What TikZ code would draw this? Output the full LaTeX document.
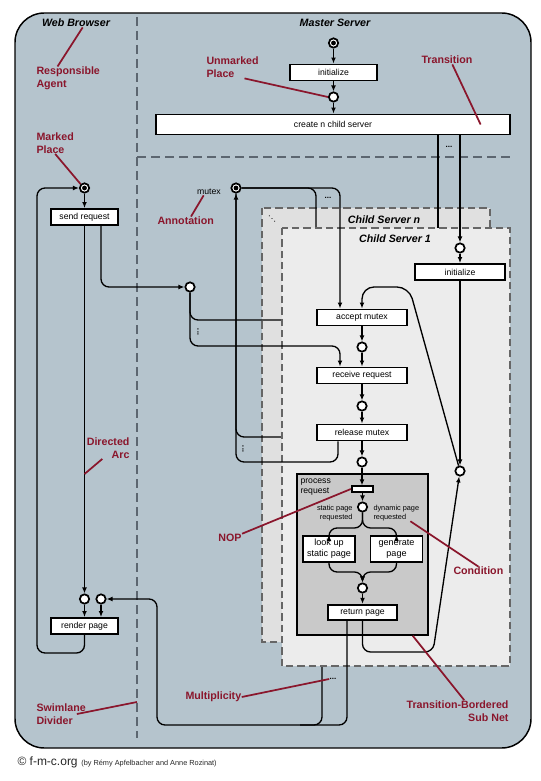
\documentclass[tikz,border=0pt]{standalone}
\usepackage{fontspec}
\setmainfont{Liberation Sans}
\newfontfamily\dotsfont{DejaVu Sans}
\usepackage{tikz}
\usetikzlibrary{arrows.meta}
\definecolor{lanegray}{RGB}{181,196,205}
\definecolor{annored}{RGB}{138,22,44}
\definecolor{childngray}{RGB}{224,224,224}
\definecolor{childonegray}{RGB}{236,236,236}
\definecolor{subnetgray}{RGB}{201,201,201}
\definecolor{dividergray}{RGB}{92,102,112}
\tikzset{every picture/.style={line width=0.75pt}}
\tikzset{
  trans/.style={draw, fill=white, line width=1.4pt, inner sep=0pt, minimum height=12pt, font=\fontsize{6.5}{7.5}\selectfont},
  place/.style={circle, draw, fill=white, line width=1.3pt, minimum size=7pt, inner sep=0pt},
  tokenplace/.style={place, path picture={\fill[black] (path picture bounding box.center) circle (1.8pt);}},
  netarc/.style={-{Latex[length=4.5pt,width=3.6pt]}, line width=1pt, rounded corners=6pt},
  netline/.style={line width=1pt, rounded corners=6pt},
  lane/.style={inner sep=0pt, font=\bfseries\itshape\fontsize{8}{9.5}\selectfont},
  anno/.style={inner sep=0pt, text=annored, font=\bfseries\fontsize{8}{9.75}\selectfont},
  annoline/.style={draw=annored, line width=1.3pt},
  divider/.style={draw=dividergray, line width=1pt, dash pattern=on 7pt off 3.5pt},
  childbox/.style={draw=black!60, line width=1pt, dash pattern=on 5.5pt off 3pt},
  small/.style={inner sep=0pt, font=\fontsize{6.5}{7.5}\selectfont},
  tiny/.style={inner sep=0pt, font=\fontsize{5.5}{6.5}\selectfont},
  multi/.style={inner sep=0pt, font=\bfseries\fontsize{6}{6}\selectfont}
}

\begin{document}
\begin{tikzpicture}[x=0.75pt,y=0.75pt,yscale=-1,xscale=1]
\useasboundingbox (0,0) rectangle (540,781);
\draw [line width=1.1pt, fill=lanegray, rounded corners=22pt] (15,13) rectangle (531,748);
\draw [divider] (137,17) -- (137,738);
\draw [divider] (137,157) -- (510,157);
\node [lane] (browser) at (76,23) {Web Browser};
\node [lane] (master) at (335,23) {Master Server};

\draw [childbox, fill=childngray] (262,208) rectangle (490,642);
\node [lane] (childn) at (384,220) {Child Server n};
\node [inner sep=0pt, font=\dotsfont\fontsize{6}{6}\selectfont] (ddots) at (272,219) {⋱};

\node [tokenplace] (mstart) at (333.5,43) {};
\node [trans, minimum width=65pt] (minit) at (333.5,72.5) {initialize};
\node [place] (mp1) at (333.5,97) {};
\node [trans, minimum width=265pt, minimum height=15pt] (create) at (333,124.5) {create n child server};

\node [tokenplace] (bstart) at (84.5,188) {};
\node [trans, minimum width=50pt] (send) at (84.5,217) {send request};
\node [place] (bp1) at (190,287) {};
\node [place] (rp1) at (84.5,599) {};
\node [place] (rp2) at (101,599) {};
\node [trans, minimum width=50pt] (render) at (84.5,626) {render page};

\node [tokenplace] (mutex) at (236,188) {};
\node [small] (mutexlbl) at (209,192) {mutex};

\coordinate (cninit) at (438,240);
\coordinate (cnaccept) at (316,240);
\coordinate (cnreceive) at (292,320);
\coordinate (cnrelease) at (292,437);
\coordinate (cnreturn) at (322,650);
\draw [netline] (create.south -| cninit) -- (cninit);
\draw [netline] (mutex) -| (cnaccept);
\draw [netline] (bp1.south) |- (cnreceive);
\draw [netline] (cnrelease) -| (mutex.south);
\draw [netline] (cnreturn) |- (300,725);

\draw [childbox, fill=childonegray] (282,228) rectangle (510,666);
\node [lane] (childone) at (395,239) {Child Server 1};

\node [place] (cp0) at (460,248) {};
\node [trans, minimum width=67.5pt] (cinit) at (460,272) {initialize};
\node [place] (cright) at (460,471) {};
\node [trans, minimum width=67.5pt] (accept) at (362,317.5) {accept mutex};
\node [place] (ap) at (362,347) {};
\node [trans, minimum width=67.5pt] (receive) at (362,375.5) {receive request};
\node [place] (rcp) at (362,406) {};
\node [trans, minimum width=67.5pt] (release) at (362,432.5) {release mutex};
\node [place] (lp) at (362,462) {};

\node [draw, fill=subnetgray, line width=1.4pt, minimum width=98pt, minimum height=120.5pt] (subnet) at (362.5,554.5) {};
\node [small, anchor=north west, align=left] (proclbl) at (300,478) {process\\request};
\node [trans, minimum width=16pt, minimum height=4pt] (nop) at (362.5,489) {};
\node [place] (sp) at (362.5,507) {};
\node [tiny, anchor=east, align=right] (statlbl) at (353,513) {static page\\requested};
\node [tiny, anchor=west, align=left] (dynlbl) at (373,513) {dynamic page\\requested};
\node [trans, minimum width=39pt, minimum height=19.5pt, align=center, font=\fontsize{6.8}{8.2}\selectfont] (lookup) at (329,549) {look up\\static page};
\node [trans, minimum width=39pt, minimum height=19.5pt, align=center, font=\fontsize{6.8}{8.2}\selectfont] (generate) at (396.5,549) {generate\\page};
\node [place] (mp) at (362.5,588) {};
\node [trans, minimum width=52pt, minimum height=11.5pt] (ret) at (362.5,612.5) {return page};

\draw [netarc] (mstart) -- (minit);
\draw [netarc] (minit) -- (mp1);
\draw [netarc] (mp1) -- (mp1 |- create.north);
\draw [netarc] (create.south -| cp0) -- (cp0);
\draw [netarc] (cp0) -- (cinit);
\draw [netarc] (cinit.south -| cright) -- (cright);

\draw [netarc] (bstart) -- (send);
\draw [netarc] (send) -- (rp1);
\draw [netarc] (send.south -| rp2) |- (bp1);
\draw [netarc] (rp1) -- (rp1 |- render.north);
\draw [netarc] (rp2) -- (rp2 |- render.north);
\draw [netarc] (render.south) |- (37,653) |- (bstart);
\draw [netarc] (bp1.south) |- (340,346) -- (receive.north -| 340,0);

\draw [netarc] (mutex) -| (accept.north -| 340,0);
\draw [netarc] (release.south -| 338,0) |- (mutex.south |- 0,462) -- (mutex.south);
\draw [netarc, rounded corners=9pt] (cright) -- (409,287) -- (accept.north |- 0,287) -- (accept.north);
\draw [netarc] (accept) -- (ap);
\draw [netarc] (ap) -- (receive);
\draw [netarc] (receive) -- (rcp);
\draw [netarc] (rcp) -- (release);
\draw [netarc] (release) -- (lp);
\draw [netarc] (lp) -- (lp |- nop.north);
\draw [netarc] (nop) -- (sp);
\draw [netarc] (sp.south) |- (lookup.north |- 0,528) -- (lookup.north);
\draw [netarc] (sp.south) |- (generate.north |- 0,528) -- (generate.north);
\draw [netarc] (lookup.south) |- (mp.north |- 0,572) -- (mp.north);
\draw [netarc] (generate.south) |- (mp.north |- 0,572) -- (mp.north);
\draw [netarc] (mp) -- (ret);
\draw [netarc] (ret.south) |- (433,652) -- (cright);
\draw [netarc] (ret.south -| 347,0) |- (157,725) |- (rp2);

\node [multi] (dotscreate) at (449,147) {...};
\node [multi] (dotsmutex) at (328,198) {...};
\node [multi, rotate=90] (vdotsreq) at (198,332) {...};
\node [multi, rotate=90] (vdotsrel) at (243,449) {...};
\node [multi] (dotsbot) at (333,679) {...};

\coordinate (arcpt) at (84.5,474);
\coordinate (swimpt) at (137,702);
\node [anno, anchor=west, align=left] (lagent) at (36,78.5) {Responsible\\Agent};
\draw [annoline] ([xshift=-8pt]lagent.north) -- ([xshift=5pt]browser.south);
\node [anno, anchor=west, align=left] (lunmarked) at (206,67.5) {Unmarked\\Place};
\draw [annoline] ([xshift=-11pt]lunmarked.south east) -- (mp1.west);
\node [anno] (ltrans) at (447,60) {Transition};
\draw [annoline] ([xshift=4pt]ltrans.south) -- ([xshift=-22.5pt]create.east);
\node [anno, anchor=west, align=left] (lmarked) at (36,143) {Marked\\Place};
\draw [annoline] (lmarked.south) -- (bstart.north west);
\node [anno, anchor=west] (lanno) at (157,221) {Annotation};
\draw [annoline] ([xshift=4pt]lanno.north) -- ([xshift=-4pt]mutexlbl.south);
\node [anno, anchor=east, align=right] (larc) at (130,448) {Directed\\Arc};
\draw [annoline] ([xshift=12pt]larc.south west) -- (arcpt);
\node [anno] (lnop) at (230,538) {NOP};
\draw [annoline] (lnop.north east) -- (nop.west);
\node [anno, anchor=west] (lcond) at (453,571) {Condition};
\draw [annoline] (lcond.north) -- ([xshift=-7pt]dynlbl.south east);
\node [anno, anchor=west, align=left] (lswim) at (36,714) {Swimlane\\Divider};
\draw [annoline] ([xshift=-7pt]lswim.east) -- (swimpt);
\node [anno, anchor=west] (lmulti) at (185,697) {Multiplicity};
\draw [annoline] (lmulti.east) -- (dotsbot.west);
\node [anno, anchor=east, align=right] (ltbsn) at (509,711) {Transition-Bordered\\Sub Net};
\draw [annoline] ([xshift=5pt]ltbsn.north) -- ([xshift=-12pt]subnet.south east);

\node [anchor=west, inner sep=0pt, text=black!85] (credit) at (17,762) {{\fontsize{9}{10}\selectfont © f-m-c.org} {\fontsize{5.5}{6}\selectfont (by Rémy Apfelbacher and Anne Rozinat)}};
\end{tikzpicture}
\end{document}
